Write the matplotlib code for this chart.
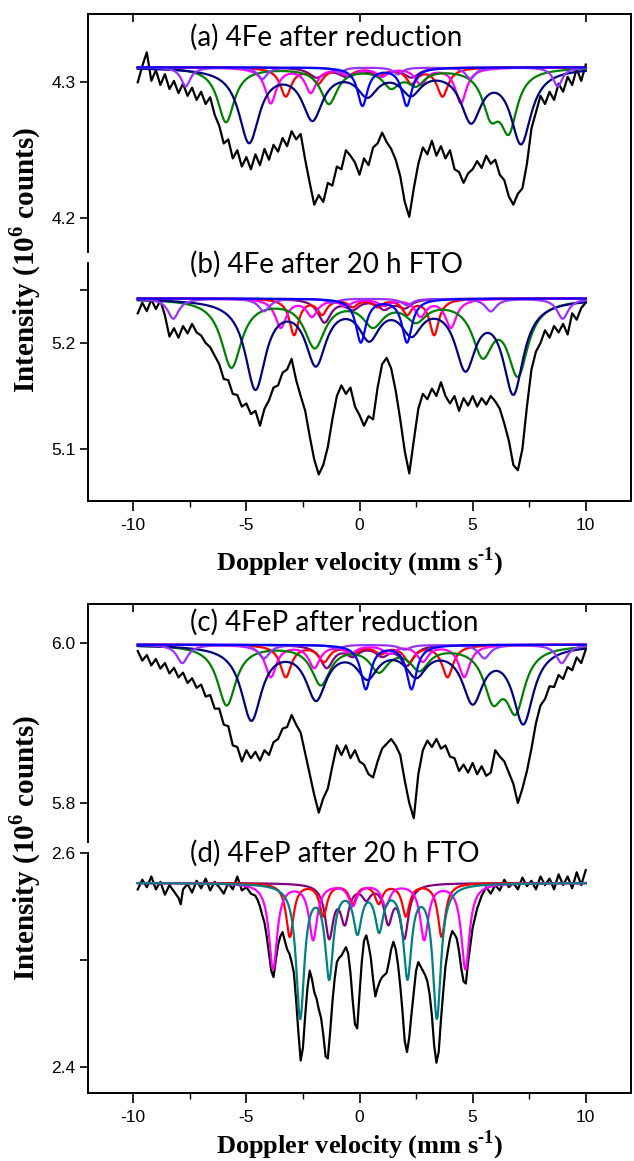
import matplotlib
matplotlib.use("Agg")
import matplotlib.pyplot as plt
import numpy as np

# ---- measured spectra: counts (x1e6) on the velocity channels ----
# panels a-c: channels every 0.2 mm/s from -9.8 to 10.0
cnt_a = [4.300, 4.312, 4.322, 4.301, 4.309, 4.298, 4.306, 4.295, 4.301, 4.292,
         4.299, 4.290, 4.296, 4.287, 4.293, 4.284, 4.289, 4.276, 4.268, 4.255,
         4.258, 4.244, 4.250, 4.238, 4.245, 4.236, 4.247, 4.239, 4.251, 4.243,
         4.254, 4.249, 4.259, 4.253, 4.264, 4.258, 4.262, 4.243, 4.226, 4.210,
         4.217, 4.212, 4.226, 4.224, 4.238, 4.236, 4.250, 4.246, 4.241, 4.232,
         4.244, 4.239, 4.252, 4.255, 4.263, 4.256, 4.251, 4.243, 4.231, 4.212,
         4.201, 4.222, 4.240, 4.252, 4.247, 4.257, 4.246, 4.253, 4.244, 4.250,
         4.236, 4.234, 4.226, 4.233, 4.236, 4.242, 4.237, 4.246, 4.240, 4.243,
         4.232, 4.228, 4.216, 4.210, 4.218, 4.222, 4.240, 4.266, 4.278, 4.290,
         4.284, 4.293, 4.287, 4.299, 4.293, 4.304, 4.298, 4.310, 4.301, 4.313]

cnt_b = [5.228, 5.238, 5.230, 5.241, 5.232, 5.240, 5.226, 5.206, 5.214, 5.205,
         5.216, 5.209, 5.218, 5.210, 5.207, 5.200, 5.196, 5.188, 5.180, 5.166,
         5.165, 5.152, 5.151, 5.140, 5.143, 5.133, 5.136, 5.122, 5.138, 5.146,
         5.158, 5.160, 5.172, 5.175, 5.185, 5.165, 5.150, 5.136, 5.112, 5.090,
         5.076, 5.085, 5.102, 5.128, 5.150, 5.160, 5.152, 5.158, 5.140, 5.132,
         5.122, 5.131, 5.128, 5.158, 5.180, 5.186, 5.176, 5.155, 5.128, 5.098,
         5.077, 5.108, 5.138, 5.152, 5.147, 5.157, 5.150, 5.163, 5.150, 5.143,
         5.150, 5.136, 5.148, 5.141, 5.150, 5.140, 5.148, 5.142, 5.150, 5.145,
         5.138, 5.124, 5.108, 5.085, 5.080, 5.100, 5.140, 5.175, 5.192, 5.200,
         5.212, 5.205, 5.216, 5.210, 5.218, 5.208, 5.228, 5.222, 5.233, 5.238]

cnt_c = [5.990, 5.978, 5.985, 5.972, 5.980, 5.968, 5.975, 5.962, 5.969, 5.957,
         5.963, 5.950, 5.956, 5.944, 5.948, 5.933, 5.935, 5.918, 5.918, 5.898,
         5.896, 5.872, 5.870, 5.852, 5.866, 5.856, 5.864, 5.853, 5.866, 5.860,
         5.876, 5.880, 5.893, 5.895, 5.910, 5.898, 5.888, 5.862, 5.836, 5.810,
         5.788, 5.806, 5.818, 5.846, 5.872, 5.860, 5.872, 5.856, 5.866, 5.852,
         5.848, 5.836, 5.832, 5.852, 5.868, 5.874, 5.880, 5.872, 5.860, 5.828,
         5.800, 5.781, 5.836, 5.866, 5.878, 5.870, 5.880, 5.868, 5.872, 5.858,
         5.856, 5.840, 5.848, 5.838, 5.850, 5.836, 5.846, 5.834, 5.838, 5.866,
         5.858, 5.852, 5.838, 5.824, 5.800, 5.818, 5.840, 5.868, 5.900, 5.922,
         5.930, 5.946, 5.945, 5.960, 5.955, 5.970, 5.966, 5.982, 5.975, 5.992]

# panel d: finer channels through the central sextets
vel_d = [-9.8, -9.6, -9.4, -9.2, -9.0, -8.8, -8.6, -8.4, -8.2, -8.0, -7.9, -7.8, -7.6, -7.4,
         -7.2, -7.0, -6.8, -6.6, -6.4, -6.2, -6.0, -5.8, -5.6, -5.4, -5.2, -5.0, -4.8, -4.6,
         -4.5, -4.4, -4.3, -4.2, -4.1, -4.0, -3.9, -3.8, -3.7, -3.6, -3.5, -3.4, -3.3, -3.2,
         -3.1, -3.0, -2.9, -2.8, -2.7, -2.6, -2.5, -2.4, -2.3, -2.2, -2.1, -2.0, -1.9, -1.8,
         -1.7, -1.6, -1.5, -1.4, -1.3, -1.2, -1.1, -1.0, -0.9, -0.8, -0.7, -0.6, -0.5, -0.4,
         -0.3, -0.2, -0.1, 0.0, 0.1, 0.2, 0.3, 0.4, 0.5, 0.6, 0.7, 0.8, 0.9, 1.0, 1.1, 1.2,
         1.3, 1.4, 1.5, 1.6, 1.7, 1.8, 1.9, 2.0, 2.1, 2.2, 2.3, 2.4, 2.5, 2.6, 2.7, 2.8, 2.9,
         3.0, 3.1, 3.2, 3.3, 3.4, 3.5, 3.6, 3.7, 3.8, 3.9, 4.0, 4.1, 4.2, 4.3, 4.4, 4.5, 4.6,
         4.7, 4.8, 4.9, 5.0, 5.2, 5.4, 5.6, 5.8, 6.0, 6.2, 6.4, 6.6, 6.8, 7.0, 7.2, 7.4, 7.6,
         7.8, 8.0, 8.2, 8.4, 8.6, 8.8, 9.0, 9.2, 9.4, 9.6, 9.8, 10.0]
cnt_d = [2.566, 2.575, 2.568, 2.578, 2.566, 2.573, 2.561, 2.570, 2.564, 2.558, 2.552, 2.566,
         2.571, 2.563, 2.574, 2.567, 2.576, 2.565, 2.573, 2.568, 2.562, 2.572, 2.566, 2.578,
         2.565, 2.568, 2.562, 2.560, 2.556, 2.550, 2.542, 2.535, 2.522, 2.506, 2.490, 2.484,
         2.500, 2.514, 2.522, 2.526, 2.518, 2.510, 2.506, 2.498, 2.488, 2.462, 2.432, 2.406,
         2.418, 2.448, 2.474, 2.490, 2.482, 2.470, 2.464, 2.454, 2.446, 2.430, 2.410, 2.408,
         2.432, 2.460, 2.482, 2.498, 2.502, 2.504, 2.508, 2.512, 2.506, 2.488, 2.462, 2.440,
         2.436, 2.468, 2.498, 2.518, 2.523, 2.514, 2.502, 2.482, 2.466, 2.474, 2.480, 2.484,
         2.486, 2.488, 2.498, 2.510, 2.517, 2.510, 2.496, 2.476, 2.452, 2.424, 2.414, 2.428,
         2.450, 2.470, 2.490, 2.498, 2.494, 2.490, 2.486, 2.480, 2.468, 2.448, 2.420, 2.404,
         2.414, 2.444, 2.470, 2.494, 2.508, 2.520, 2.527, 2.524, 2.520, 2.508, 2.492, 2.480,
         2.478, 2.498, 2.514, 2.530, 2.548, 2.560, 2.568, 2.562, 2.570, 2.565, 2.575, 2.568,
         2.572, 2.566, 2.577, 2.569, 2.574, 2.566, 2.578, 2.570, 2.576, 2.566, 2.580, 2.570,
         2.578, 2.567, 2.582, 2.570, 2.584]

# ---- fitted sub-spectra: line positions (mm/s), line depths, half width ----
base_a = 4.311
navy_a = ([-4.88, -2.08, 0.35, 2.27, 4.93, 7.14], [0.054, 0.036, 0.018, 0.017, 0.037, 0.054], 0.55)
green_a = ([-5.90, -1.35, 1.40, 2.50, 5.80, 6.60], [0.040, 0.026, 0.013, 0.011, 0.030, 0.042], 0.45)
magenta_a = ([-3.92, -2.15, -0.45, 1.00, 2.71, 4.48], [0.026, 0.018, 0.006, 0.006, 0.012, 0.026], 0.30)
red_a = ([-3.26, -1.83, -0.50, 0.90, 2.30, 3.67], [0.021, 0.011, 0.005, 0.005, 0.011, 0.021], 0.30)
blue_a = ([0.13, 2.09], [0.028, 0.028], 0.27)
violet_a = ([-7.68, -4.29, -0.90, 1.70, 4.90, 8.76], [0.014, 0.0085, 0.004, 0.005, 0.0085, 0.014], 0.25)
purple_a = ([-1.90, -0.60, 0.90, 2.30], [0.007, 0.006, 0.006, 0.007], 0.40)

base_b = 5.242
navy_b = ([-4.60, -1.93, 0.43, 2.30, 4.68, 6.80], [0.083, 0.058, 0.033, 0.028, 0.061, 0.086], 0.55)
green_b = ([-5.66, -1.98, 0.60, 2.50, 5.44, 7.00], [0.064, 0.044, 0.023, 0.018, 0.048, 0.068], 0.55)
magenta_b = ([-3.48, -2.10, -0.60, 1.10, 2.70, 4.04], [0.027, 0.016, 0.006, 0.006, 0.016, 0.027], 0.30)
red_b = ([-2.89, -1.65, -0.30, 0.80, 2.10, 3.30], [0.034, 0.014, 0.007, 0.007, 0.014, 0.034], 0.25)
blue_b = ([0.06, 2.10], [0.041, 0.041], 0.27)
violet_b = ([-8.23, -4.22, -1.20, 2.10, 5.80, 8.98], [0.019, 0.012, 0.004, 0.006, 0.012, 0.019], 0.30)
purple_b = ([-1.55, -0.30, 1.10, 2.00], [0.022, 0.009, 0.009, 0.008], 0.35)

base_c = 5.998
navy_c = ([-4.78, -1.92, 0.35, 2.50, 5.00, 7.24], [0.092, 0.064, 0.036, 0.034, 0.067, 0.095], 0.55)
green_c = ([-5.87, -1.71, 0.86, 2.65, 5.90, 6.90], [0.075, 0.048, 0.030, 0.028, 0.060, 0.075], 0.50)
magenta_c = ([-3.92, -2.00, -0.40, 1.30, 2.80, 4.63], [0.040, 0.028, 0.010, 0.010, 0.020, 0.040], 0.30)
red_c = ([-3.26, -1.57, -0.30, 0.94, 2.20, 3.89], [0.040, 0.020, 0.010, 0.010, 0.020, 0.040], 0.30)
blue_c = ([0.28, 2.30], [0.055, 0.055], 0.27)
violet_c = ([-7.83, -4.22, -1.00, 2.00, 5.52, 8.94], [0.023, 0.017, 0.005, 0.006, 0.017, 0.023], 0.30)
purple_c = ([-1.45, -0.30, 1.00, 2.10], [0.028, 0.012, 0.012, 0.025], 0.35)

base_d = 2.572
teal_d = ([-2.62, -1.34, -0.09, 0.87, 2.12, 3.42], [0.124, 0.085, 0.042, 0.040, 0.085, 0.124], 0.22)
magenta_d = ([-3.82, -2.05, -0.30, 1.16, 2.86, 4.68], [0.080, 0.052, 0.020, 0.020, 0.052, 0.080], 0.22)
red_d = ([-3.08, -1.60, -0.30, 0.85, 2.05, 3.63], [0.050, 0.030, 0.018, 0.018, 0.030, 0.050], 0.20)
purple_d = ([-1.34, -0.65, 0.30, 1.27, 1.98], [0.049, 0.034, 0.012, 0.034, 0.049], 0.22)

COLORS = {
    "navy": "#000080",
    "green": "#008000",
    "magenta": "#ff00ff",
    "red": "#ff0000",
    "blue": "#0000ff",
    "violet": "#9933ff",
    "purple": "#800080",
    "teal": "#008080",
}

W, H = 634, 1161
CHANNELS = np.linspace(-9.8, 10.0, 100)   # velocity channels of panels a-c
V = np.linspace(-9.8, 10.0, 900)          # grid for the fitted sub-spectra


def lorentz_sum(base, comp):
    pos, depth, hw = comp
    y = np.full_like(V, base)
    for p, d in zip(pos, depth):
        y -= d / (1.0 + ((V - p) / hw) ** 2)
    return y


def rect(l, r, t, b):
    return [l / W, 1 - b / H, (r - l) / W, (b - t) / H]


def style_axis(ax, ylim, yticks, ylabels, spine_lo, spine_hi, top_part):
    ax.set_xlim(-12, 12)
    ax.set_ylim(*ylim)
    ax.set_yticks(yticks)
    ax.set_yticklabels(ylabels)
    ax.spines["left"].set_bounds(spine_lo, spine_hi)
    for s in ax.spines.values():
        s.set_linewidth(1.4)
    ax.tick_params(axis="y", direction="out", length=6, width=1.2, labelsize=12.5, pad=3)
    if top_part:
        ax.spines["bottom"].set_visible(False)
        ax.set_xticks([-10, 0, 10])
        ax.tick_params(axis="x", which="both", bottom=False, labelbottom=False,
                       top=True, direction="in", length=6, width=1.2)
    else:
        ax.spines["top"].set_visible(False)
        ax.set_xticks([-10, -5, 0, 5, 10])
        ax.set_xticklabels(["-10", "-5", "0", "5", "10"])
        ax.set_xticks([-7.5, -2.5, 2.5, 7.5], minor=True)
        ax.tick_params(axis="x", which="major", direction="out", length=7, width=1.2,
                       labelsize=12.5, pad=5)
        ax.tick_params(axis="x", which="minor", direction="out", length=4, width=1.0)


def draw(ax, vel, cnt, base, comps):
    ax.plot(vel, cnt, color="black", lw=1.6, zorder=2)
    for name, comp in comps:
        ax.plot(V, lorentz_sum(base, comp), color=COLORS[name], lw=1.6, zorder=3)


plt.rcParams["font.family"] = ["Liberation Sans", "DejaVu Sans"]
plt.rcParams["mathtext.fontset"] = "custom"
plt.rcParams["mathtext.rm"] = "Liberation Serif:bold"
plt.rcParams["mathtext.bf"] = "Liberation Serif:bold"

fig = plt.figure(figsize=(W / 100, H / 100), dpi=100)

ax_a = fig.add_axes(rect(88, 631, 14, 257))
ax_b = fig.add_axes(rect(88, 631, 257, 501))
ax_c = fig.add_axes(rect(88, 631, 604, 849))
ax_d = fig.add_axes(rect(88, 631, 849, 1093))

draw(ax_a, CHANNELS, cnt_a, base_a,
     [("purple", purple_a), ("red", red_a), ("magenta", magenta_a), ("green", green_a),
      ("navy", navy_a), ("violet", violet_a), ("blue", blue_a)])
draw(ax_b, CHANNELS, cnt_b, base_b,
     [("purple", purple_b), ("red", red_b), ("magenta", magenta_b), ("green", green_b),
      ("navy", navy_b), ("violet", violet_b), ("blue", blue_b)])
draw(ax_c, CHANNELS, cnt_c, base_c,
     [("purple", purple_c), ("red", red_c), ("magenta", magenta_c), ("green", green_c),
      ("navy", navy_c), ("violet", violet_c), ("blue", blue_c)])
draw(ax_d, vel_d, cnt_d, base_d,
     [("purple", purple_d), ("red", red_d), ("magenta", magenta_d), ("teal", teal_d)])

style_axis(ax_a, (4.1715, 4.3502), [4.2, 4.3], ["4.2", "4.3"], 4.1752, 4.3502, True)
style_axis(ax_b, (5.051, 5.2811), [5.1, 5.2, 5.25], ["5.1", "5.2", ""], 5.051, 5.2755, False)
style_axis(ax_c, (5.7425, 6.0488), [5.8, 6.0], ["5.8", "6.0"], 5.751, 6.0488, True)
style_axis(ax_d, (2.3757, 2.6037), [2.4, 2.5, 2.6], ["2.4", "", "2.6"], 2.3757, 2.6, False)

title_font = dict(family=["Lato", "DejaVu Sans"], fontsize=20, va="center", ha="left")
fig.text(190 / W, 1 - 37 / H, "(a) 4Fe after reduction", **title_font)
fig.text(190 / W, 1 - 264 / H, "(b) 4Fe after 20 h FTO", **title_font)
fig.text(190 / W, 1 - 622 / H, "(c) 4FeP after reduction", **title_font)
fig.text(190 / W, 1 - 853 / H, "(d) 4FeP after 20 h FTO", **title_font)

label_font = dict(family=["Liberation Serif", "DejaVu Serif"], fontweight="bold")
xlab = r"Doppler velocity (mm s$^{\text{-1}}$)"
ylab = r"Intensity (10$^{\mathregular{6}}$ counts)"
fig.text(360 / W, 1 - 562 / H, xlab, ha="center", va="center", fontsize=19, **label_font)
fig.text(360 / W, 1 - 1145 / H, xlab, ha="center", va="center", fontsize=19, **label_font)
fig.text(25 / W, 1 - 260 / H, ylab, ha="center", va="center", rotation=90, fontsize=21, **label_font)
fig.text(25 / W, 1 - 848 / H, ylab, ha="center", va="center", rotation=90, fontsize=21, **label_font)

fig.savefig("out.png", dpi=100)
